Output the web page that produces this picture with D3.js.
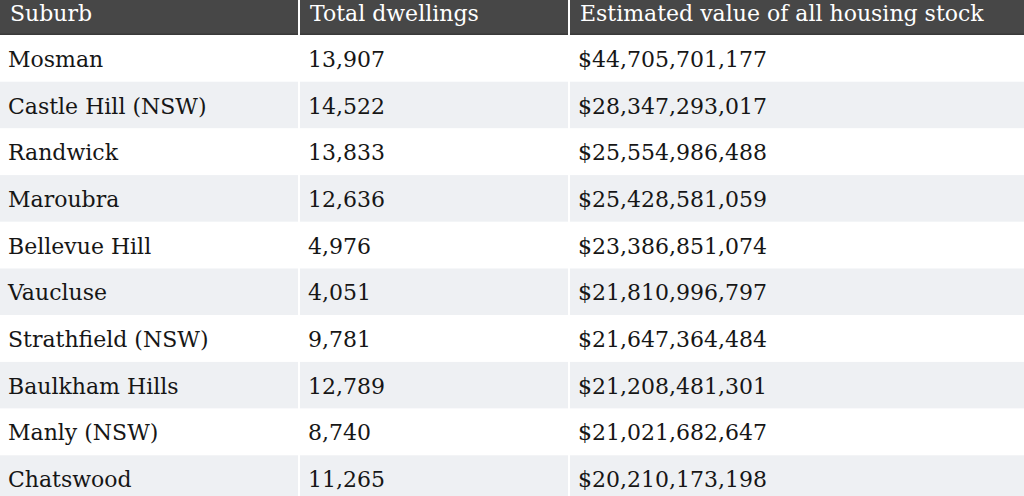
<!DOCTYPE html>
<html>
<head>
<meta charset="utf-8">
<script src="https://cdn.jsdelivr.net/npm/d3@7"></script>
<style>
  html, body { margin: 0; padding: 0; background: #fff; overflow: hidden; }
  svg { display: block; }
</style>
</head>
<body>
<svg id="chart" width="1024" height="496"></svg>
<script>
const headers = ["Suburb", "Total dwellings", "Estimated value of all housing stock"];
const suburbs = ["Mosman", "Castle Hill (NSW)", "Randwick", "Maroubra", "Bellevue Hill", "Vaucluse", "Strathfield (NSW)", "Baulkham Hills", "Manly (NSW)", "Chatswood"];
const dwellings = [13907, 14522, 13833, 12636, 4976, 4051, 9781, 12789, 8740, 11265];
const housingValues = [44705701177, 28347293017, 25554986488, 25428581059, 23386851074, 21810996797, 21647364484, 21208481301, 21021682647, 20210173198];

const W = 1024, H = 496;
const headerH = 35;
const rowH = 46.7;
const colEdges = [0, 299, 569, 1024];

const svg = d3.select("#chart");
const font = "'DejaVu Serif', serif";

const x = d3.scaleOrdinal().domain([0, 1, 2]).range(colEdges.slice(0, 3));
const y = d3.scaleBand()
  .domain(d3.range(suburbs.length))
  .range([headerH, headerH + rowH * suburbs.length])
  .padding(0);

const fmtInt = d3.format(",");
const fmtMoney = v => "$" + d3.format(",")(v);

const rows = suburbs.map((s, i) => [s, fmtInt(dwellings[i]), fmtMoney(housingValues[i])]);

// Row backgrounds
svg.append("g").selectAll("rect")
  .data(rows)
  .join("rect")
  .attr("x", 0)
  .attr("y", (d, i) => y(i))
  .attr("width", W)
  .attr("height", y.bandwidth())
  .attr("fill", (d, i) => i % 2 === 1 ? "#eef0f3" : "#ffffff");

// Header
svg.append("rect").attr("x", 0).attr("y", 0).attr("width", W).attr("height", headerH).attr("fill", "#474747");
svg.append("rect").attr("x", 0).attr("y", headerH - 1.5).attr("width", W).attr("height", 1.5).attr("fill", "#3a3a3a");

// Column dividers
svg.append("g").selectAll("line")
  .data(colEdges.slice(1, 3))
  .join("line")
  .attr("x1", d => d).attr("x2", d => d)
  .attr("y1", 0).attr("y2", H)
  .attr("stroke", "#ffffff")
  .attr("stroke-width", 2);

// Header text
svg.append("g").selectAll("text")
  .data(headers)
  .join("text")
  .attr("x", (d, i) => x(i) + (i === 0 ? 10 : 11))
  .attr("y", headerH / 2 - 4)
  .attr("dominant-baseline", "central")
  .attr("fill", "#ffffff")
  .attr("font-family", font)
  .attr("font-size", 22)
  .text(d => d);

// Body text
const rowG = svg.append("g").selectAll("g")
  .data(rows)
  .join("g")
  .attr("transform", (d, i) => `translate(0, ${y(i) + y.bandwidth() / 2 + 1})`);

rowG.selectAll("text")
  .data(d => d)
  .join("text")
  .attr("x", (d, i) => x(i) + (i === 0 ? 8 : 9))
  .attr("y", 0)
  .attr("dominant-baseline", "central")
  .attr("fill", "#161616")
  .attr("font-family", font)
  .attr("font-size", 22)
  .text(d => d);
</script>
</body>
</html>
